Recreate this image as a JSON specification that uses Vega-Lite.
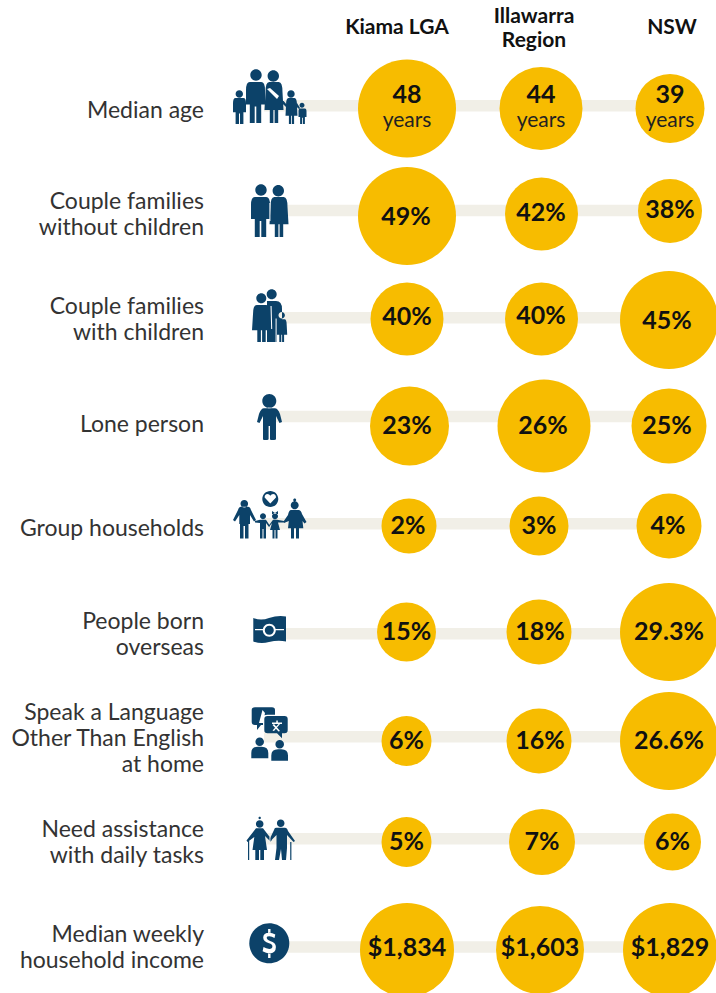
{
"$schema":"https://vega.github.io/schema/vega-lite/v6.json",
"width":716,"height":993,"padding":0,
"autosize":{"type":"fit","contains":"padding"},
"background":"white",
"config":{"view":{"stroke":null},"text":{"font":"Lato"}},
"datasets":{
"rows":[
{"row":1,"label":"Median age","icon":"family","detail":"family"},
{"row":2,"label":"Couple families\nwithout children","icon":"couple","detail":"couple"},
{"row":3,"label":"Couple families\nwith children","icon":"parents","detail":"parents"},
{"row":4,"label":"Lone person","icon":"lone","detail":"lone"},
{"row":5,"label":"Group households","icon":"group","detail":"group"},
{"row":6,"label":"People born\noverseas","icon":"flag","detail":"flag"},
{"row":7,"label":"Speak a Language\nOther Than English\nat home","icon":"speech","detail":"speech"},
{"row":8,"label":"Need assistance\nwith daily tasks","icon":"elderly","detail":"elderly"},
{"row":9,"label":"Median weekly\nhousehold income","icon":"dollar","detail":"dollar"}
],
"cells":[
{"cell":1,"area":"Kiama LGA","text":"48","unit":"years","bubble":98},
{"cell":2,"area":"Illawarra Region","text":"44","unit":"years","bubble":83},
{"cell":3,"area":"NSW","text":"39","unit":"years","bubble":69},
{"cell":4,"area":"Kiama LGA","text":"49%","bubble":98},
{"cell":5,"area":"Illawarra Region","text":"42%","bubble":73},
{"cell":6,"area":"NSW","text":"38%","bubble":64},
{"cell":7,"area":"Kiama LGA","text":"40%","bubble":73},
{"cell":8,"area":"Illawarra Region","text":"40%","bubble":73},
{"cell":9,"area":"NSW","text":"45%","bubble":98},
{"cell":10,"area":"Kiama LGA","text":"23%","bubble":79},
{"cell":11,"area":"Illawarra Region","text":"26%","bubble":93},
{"cell":12,"area":"NSW","text":"25%","bubble":75},
{"cell":13,"area":"Kiama LGA","text":"2%","bubble":55},
{"cell":14,"area":"Illawarra Region","text":"3%","bubble":59},
{"cell":15,"area":"NSW","text":"4%","bubble":65},
{"cell":16,"area":"Kiama LGA","text":"15%","bubble":59},
{"cell":17,"area":"Illawarra Region","text":"18%","bubble":65},
{"cell":18,"area":"NSW","text":"29.3%","bubble":98},
{"cell":19,"area":"Kiama LGA","text":"6%","bubble":50},
{"cell":20,"area":"Illawarra Region","text":"16%","bubble":65},
{"cell":21,"area":"NSW","text":"26.6%","bubble":98},
{"cell":22,"area":"Kiama LGA","text":"5%","bubble":50},
{"cell":23,"area":"Illawarra Region","text":"7%","bubble":66},
{"cell":24,"area":"NSW","text":"6%","bubble":57},
{"cell":25,"area":"Kiama LGA","text":"$1,834","bubble":94},
{"cell":26,"area":"Illawarra Region","text":"$1,603","bubble":88},
{"cell":27,"area":"NSW","text":"$1,829","bubble":94}
],
"headers":[
{"col":1,"line":2,"name":"Kiama LGA"},
{"col":2,"line":1,"name":"Illawarra\nRegion"},
{"col":3,"line":2,"name":"NSW"}
]
},
"resolve":{"scale":{"x":"independent","y":"independent","shape":"independent","size":"independent"}},
"layer":[
{"data":{"name":"rows"},
 "mark":{"type":"rule","color":"#f1efe7","strokeWidth":11.5},
 "encoding":{
  "y":{"field":"row","type":"quantitative","axis":null,"scale":{"domain":[1,2,3,4,5,6,7,8,9],"range":[105.8,210.5,317.8,416.5,523.8,633.8,736.8,838.8,947],"nice":false,"zero":false}},
  "x":{"datum":0,"type":"quantitative","axis":null,"scale":{"domain":[0,3],"range":[264,668],"nice":false,"zero":false}},
  "x2":{"datum":3}
 }},
{"data":{"name":"rows"},
 "mark":{"type":"point","filled":true,"size":4,"color":"#0c4269","opacity":1,"strokeWidth":0},
 "encoding":{
  "y":{"field":"row","type":"quantitative","axis":null,"scale":{"domain":[1,2,3,4,5,6,7,8,9],"range":[105,211,317,417,523,633,737,838,947],"nice":false,"zero":false}},
  "x":{"datum":0,"type":"quantitative","axis":null,"scale":{"domain":[0,3],"range":[264,668],"nice":false,"zero":false}},
  "shape":{"field":"icon","type":"nominal","legend":null,"scale":{"domain":["family","couple","parents","lone","group","flag","speech","elderly","dollar"],"range":[
"M-14.2 -23L-2.8 -23Q1 -23 1 -14.8L1 -.5L-2.8 -.5L-2.8 18L-7.7 18L-7.7 1.6L-9.3 1.6L-9.3 18L-14.2 18L-14.2 -.5L-18 -.5L-18 -14.8Q-18 -23 -14.2 -23ZM-13.7 -30a5.7 5.7 0 1 0 11.4 0a5.7 5.7 0 1 0 -11.4 0ZM5.2 -23L14.8 -23Q18.5 -23 18.5 -12.8L19.5 4.9L14.2 4.9L14.2 18L10.6 18L10.6 4.9L9.4 4.9L9.4 18L5.8 18L5.8 4.9L.5 4.9L1.5 -12.8Q1.5 -23 5.2 -23ZM3.6 -29a5.7 5.7 0 1 0 11.4 0a5.7 5.7 0 1 0 -11.4 0ZM-28.4 -7L-20.6 -7Q-18 -7 -18 -1.8L-18 7.3L-20.6 7.3L-20.6 19L-24 19L-24 8.6L-25 8.6L-25 19L-28.4 19L-28.4 7.3L-31 7.3L-31 -1.8Q-31 -7 -28.4 -7ZM-28.4 -11a3.7 3.7 0 1 0 7.4 0a3.7 3.7 0 1 0 -7.4 0ZM24.5 -7L30.5 -7Q32.9 -7 32.9 -.5L33.5 10.7L30.1 10.7L30.1 19L27.9 19L27.9 10.7L27.1 10.7L27.1 19L24.9 19L24.9 10.7L21.5 10.7L22.1 -.5Q22.1 -7 24.5 -7ZM23.3 -11a3.7 3.7 0 1 0 7.4 0a3.7 3.7 0 1 0 -7.4 0ZM18 -6L23 0L22 2L17 -3ZM33 -2L36 3L35 4L32 1ZM36.1 3.5L40.9 3.5Q42.5 3.5 42.5 6.6L42.5 12L40.9 12L40.9 19L38.9 19L38.9 12.8L38.1 12.8L38.1 19L36.1 19L36.1 12L34.5 12L34.5 6.6Q34.5 3.5 36.1 3.5ZM35.5 .3a2.5 2.5 0 1 0 5 0a2.5 2.5 0 1 0 -5 0Z",
"M-9.2 -14L2.2 -14Q6 -14 6 -6L6 8L2.2 8L2.2 26L-2.7 26L-2.7 10L-4.3 10L-4.3 26L-9.2 26L-9.2 8L-13 8L-13 -6Q-13 -14 -9.2 -14ZM-8.7 -21a5.7 5.7 0 1 0 11.4 0a5.7 5.7 0 1 0 -11.4 0ZM10.2 -14L19.8 -14Q23.5 -14 23.5 -4L24.5 13.2L19.2 13.2L19.2 26L15.6 26L15.6 13.2L14.4 13.2L14.4 26L10.8 26L10.8 13.2L5.5 13.2L6.5 -4Q6.5 -14 10.2 -14ZM8.6 -20.3a5.7 5.7 0 1 0 11.4 0a5.7 5.7 0 1 0 -11.4 0Z",
"M3 -16L12 -16Q18 -16 18 -8L18 6L13 6L13 25L3 25ZM2.7 -22.7a5 5 0 1 0 10 0a5 5 0 1 0 -10 0ZM-7.2 -12L2.2 -12Q6 -12 6 -2.8L7 13.2L1.7 13.2L1.7 25L-1.9 25L-1.9 13.2L-3.1 13.2L-3.1 25L-6.7 25L-6.7 13.2L-12 13.2L-11 -2.8Q-11 -12 -7.2 -12ZM-7.7 -18.7a5 5 0 1 0 10 0a5 5 0 1 0 -10 0ZM15 2.3L20.5 2.3Q22.7 2.3 22.7 8L23.2 17.7L20.1 17.7L20.1 25L18.1 25L18.1 17.7L17.3 17.7L17.3 25L15.3 25L15.3 17.7L12.2 17.7L12.7 8Q12.7 2.3 15 2.3ZM14.5 -1.7a3.2 3.2 0 1 0 6.4 0a3.2 3.2 0 1 0 -6.4 0Z",
"M0 -8.7L10.6 -8.7Q14 -8.7 16 -3L18 5L15.5 6L12 -1L12 22Q12 23 10 23L7 23Q6 23 6 22L6 9L4.6 9L4.6 22Q4.6 23 3 23L0 23Q-1 23 -1 22L-1 -1L-4.5 6L-7 5L-5 -3Q-3 -8.7 0 -8.7ZM-1.7 -16a7 7 0 1 0 14 0a7 7 0 1 0 -14 0Z",
"M-1.7 -24a8 8 0 1 0 16 0a8 8 0 1 0 -16 0ZM-23 -16.3L-16 -16.3Q-14 -16.3 -13 -13L-8 -3L-10 -1.5L-14 -8L-14 1L-15.5 1L-15.5 15.4L-19 15.4L-19 3L-20.5 3L-20.5 15.4L-24 15.4L-24 1L-24.7 1L-24.7 -8L-29 -1.5L-31 -3L-26 -13Q-25 -16.3 -23 -16.3ZM-23.5 -19.3a3.8 3.8 0 1 0 7.6 0a3.8 3.8 0 1 0 -7.6 0ZM-9 -2L-4 -3.3L2 -3.3L6 3L5 4L2 0L2 15.4L-.5 15.4L-.5 6L-1.5 6L-1.5 15.4L-4 15.4L-4 0L-9 -.5ZM-4 -6.7a3 3 0 1 0 6 0a3 3 0 1 0 -6 0ZM9 -3.3L13 -3.3L20 -2L20 -.5L14 -.5L16 7L13.5 7L13.5 15.4L11.5 15.4L11.5 7L10.5 7L10.5 15.4L8.5 15.4L8.5 7L6 7L8 0L5 4L4.5 3ZM8 -6.7a3 3 0 1 0 6 0a3 3 0 1 0 -6 0ZM8 -12L11 -10L14 -12L14 -9L8 -9ZM27 -13L34.5 -13Q37 -13 38 -9L42.5 -1L40.5 .5L38.5 -2L39.3 5.3L35 5.3L35 15.4L32 15.4L32 5.3L30 5.3L30 15.4L27 15.4L27 5.3L24 5.3L24.8 -2L20 0L19.5 -1.5L24 -8Q25 -13 27 -13ZM26.7 -17.7a4 4 0 1 0 8 0a4 4 0 1 0 -8 0ZM29.2 -23a1.5 1.5 0 1 0 3 0a1.5 1.5 0 1 0 -3 0Z",
"M-10.7 -15Q-3 -12 5 -15Q14 -18 22 -16.5L22 8.5Q14 7 5 9Q-3 11 -10.7 8.5Z",
"M-9 -29.7L8 -29.7Q11 -29.7 11 -27L11 -15Q11 -12 8 -12L-3 -12L-7 -7L-7 -12L-9 -12Q-12.3 -12 -12.3 -15L-12.3 -27Q-12.3 -29.7 -9 -29.7ZM3.5 -21L20.5 -21Q23.7 -21 23.7 -18L23.7 -7Q23.7 -3.7 20.5 -3.7L18 -3.7L18 1.3L13 -3.7L3.5 -3.7Q.3 -3.7 .3 -7L.3 -18Q.3 -21 3.5 -21ZM-8.6 4.7a4.3 4.3 0 1 0 8.6 0a4.3 4.3 0 1 0 -8.6 0ZM-12.7 21.3L-12.7 16Q-12.7 9.7 -6 9.7L-2.4 9.7Q4.3 9.7 4.3 16L4.3 21.3ZM11.4 7.3a4.3 4.3 0 1 0 8.6 0a4.3 4.3 0 1 0 -8.6 0ZM7.3 23.7L7.3 18.5Q7.3 12.3 14 12.3L17.3 12.3Q24 12.3 24 18.5L24 23.7Z",
"M-8 -9.7L-1 -9.7L8 2L6.5 3.5L1 -2L3 12L0 12L0 22L-3.7 22L-3.7 12L-5 12L-5 22L-8.7 22L-8.7 12L-11.5 12L-9.7 -1L-16.5 4L-17.5 2.5ZM-8.1 -14a3.8 3.8 0 1 0 7.6 0a3.8 3.8 0 1 0 -7.6 0ZM-5.5 -20a1.2 1.2 0 1 0 2.4 0a1.2 1.2 0 1 0 -2.4 0ZM-16 3h1.2v19h-1.2ZM12 -10.3L21 -10.3Q23 -10.3 24 -7L31 3L29.5 4L23 -3L23 10L22 22L18 22L17 11L15 22L11 22L12.5 10L12.5 -3L7 2.5L5.5 1.5L10 -8Q10.5 -10.3 12 -10.3ZM12.9 -14.7a3.8 3.8 0 1 0 7.6 0a3.8 3.8 0 1 0 -7.6 0ZM26.2 4h1.2v18h-1.2Z",
"M-14.7 -3.7a20 20 0 1 0 40 0a20 20 0 1 0 -40 0Z"
]}}
 }},
{"data":{"name":"rows"},
 "mark":{"type":"point","filled":true,"size":4,"color":"#ffffff","opacity":1,"strokeWidth":0},
 "encoding":{
  "y":{"field":"row","type":"quantitative","axis":null,"scale":{"domain":[1,2,3,4,5,6,7,8,9],"range":[105,211,317,417,523,633,737,838,947],"nice":false,"zero":false}},
  "x":{"datum":0,"type":"quantitative","axis":null,"scale":{"domain":[0,3],"range":[264,668],"nice":false,"zero":false}},
  "shape":{"field":"detail","type":"nominal","legend":null,"scale":{"domain":["family","couple","parents","lone","group","flag","speech","elderly","dollar"],"range":[
"M3 -16L6 -17L15 -9L13 -6Z",
"M5.4 -8L6.4 -8L6.4 10L5.4 10Z",
"M6.5 -11L7.6 -11L8.2 12L7.2 12ZM11.6 1.5L12.6 1.5L12.6 25L11.6 25Z",
"M4 -9.4h2.6v.6h-2.6Z",
"M.6 -25.5Q.6 -29 3.5 -29Q5.3 -29 6.3 -27.3Q7.3 -29 9.1 -29Q12 -29 12 -25.5L6.3 -19.5Z",
"M-9 -3.9L-1 -3.9L-1 -2.7L-9 -2.7ZM11.6 -3.9L20 -3.9L20 -2.7L11.6 -2.7ZM-1.2 -2.7a6.5 6.5 0 1 1 13 0a6.5 6.5 0 1 1 -13 0ZM.8 -2.7a4.5 4.5 0 1 0 9 0a4.5 4.5 0 1 0 -9 0Z",
"M-1 -12L-1 -19Q-1 -22.3 3.5 -22.3L11 -22.3L11 -21L3.5 -21Q.3 -21 .3 -18L.3 -12ZM-5 -14L-1.5 -27L1 -24L-1 -14ZM8 -14.5h10v1.5h-10ZM12.3 -16.5h1.5v2h-1.5ZM10 -13L16 -6L14.5 -5.5L8.5 -12ZM16 -13L10 -6L8.5 -6.5L14.5 -13Z",
"M5.5 -1L6.4 -1L6.4 3L5.5 3Z",
"M11.3 -12.5Q8.4 -14.3 5.3 -14.3Q-.8 -14.3 -.8 -9.5Q-.8 -5.3 5 -3.7Q8.4 -2.9 8.4 -.5Q8.4 1.9 5.3 1.9Q2.1 1.9 -.5 .1L-1.4 4.3Q2.1 6.4 5.3 6.4Q11.9 6.4 11.9 .1Q11.9 -4.7 6.1 -6.1Q2.7 -7.1 2.7 -9.5Q2.7 -10.7 5.3 -10.7Q7.8 -10.7 10.5 -8.9ZM4.1 -18h2.4v4h-2.4ZM4.1 6h2.4v5h-2.4Z"
]}}
 }},
{"data":{"name":"cells"},
 "mark":{"type":"point","filled":true,"shape":"circle","color":"#f7bc00","opacity":1,"strokeWidth":0},
 "encoding":{
  "x":{"field":"cell","type":"quantitative","axis":null,"scale":{"domain":[1,2,3,4,5,6,7,8,9,10,11,12,13,14,15,16,17,18,19,20,21,22,23,24,25,26,27],"range":[407,541,670,407,541.5,670,407,541.5,669,409.5,544,669,409,539,669,406.5,539,669,406.5,539,669,406.5,542,672.5,407,540,670],"nice":false,"zero":false}},
  "y":{"field":"cell","type":"quantitative","axis":null,"scale":{"domain":[1,2,3,4,5,6,7,8,9,10,11,12,13,14,15,16,17,18,19,20,21,22,23,24,25,26,27],"range":[108.5,108.5,108.5,216,214,211,319,319,320,426,426,426,526,526,526,632,632,632,741,741,741,842,842,842,950,950,950],"nice":false,"zero":false}},
  "size":{"field":"bubble","type":"quantitative","legend":null,"scale":{"type":"pow","exponent":2,"domain":[0,100],"range":[0,10000]}}
 }},
{"data":{"name":"cells"},
 "transform":[{"filter":"datum.unit == null"}],
 "mark":{"type":"text","font":"Lato","fontWeight":"bold","fontSize":25,"color":"#111111","align":"center","baseline":"middle"},
 "encoding":{
  "x":{"field":"cell","type":"quantitative","axis":null,"scale":{"domain":[1,2,3,4,5,6,7,8,9,10,11,12,13,14,15,16,17,18,19,20,21,22,23,24,25,26,27],"range":[407,541,670,406,541,670,407,541,667,407,543,667,408,539,668,406.5,540,669,406.5,540,669,406.5,542,672.5,407,540,670],"nice":false,"zero":false}},
  "y":{"field":"cell","type":"quantitative","axis":null,"scale":{"domain":[1,2,3,4,5,6,7,8,9,10,11,12,13,14,15,16,17,18,19,20,21,22,23,24,25,26,27],"range":[108.5,108.5,108.5,217,213,210,317,316,321,426,426,426,526,526,526,632,632,632,741,741,741,842,842,842,948,948,948],"nice":false,"zero":false}},
  "text":{"field":"text","type":"nominal"}
 }},
{"data":{"name":"cells"},
 "transform":[{"filter":"datum.unit != null"}],
 "mark":{"type":"text","font":"Lato","fontWeight":"bold","fontSize":25,"color":"#111111","align":"center","baseline":"middle"},
 "encoding":{
  "x":{"field":"cell","type":"quantitative","axis":null,"scale":{"domain":[1,2,3],"range":[407,541,670],"nice":false,"zero":false}},
  "y":{"datum":0,"type":"quantitative","axis":null,"scale":{"domain":[0,1],"range":[95,120],"nice":false,"zero":false}},
  "text":{"field":"text","type":"nominal"}
 }},
{"data":{"name":"cells"},
 "transform":[{"filter":"datum.unit != null"}],
 "mark":{"type":"text","font":"Lato","fontSize":21,"color":"#222222","align":"center","baseline":"middle"},
 "encoding":{
  "x":{"field":"cell","type":"quantitative","axis":null,"scale":{"domain":[1,2,3],"range":[407,541,670],"nice":false,"zero":false}},
  "y":{"datum":1,"type":"quantitative","axis":null,"scale":{"domain":[0,1],"range":[95,120.5],"nice":false,"zero":false}},
  "text":{"field":"unit","type":"nominal"}
 }},
{"data":{"name":"rows"},
 "mark":{"type":"text","font":"Lato","fontSize":23,"color":"#333333","align":"right","baseline":"middle","lineBreak":"\n","lineHeight":26},
 "encoding":{
  "x":{"datum":0,"type":"quantitative","axis":null,"scale":{"domain":[0,1],"range":[204,264],"nice":false,"zero":false}},
  "y":{"field":"row","type":"quantitative","axis":null,"scale":{"domain":[1,2,3,4,5,6,7,8,9],"range":[111,201.5,306.5,424.5,528.5,621.5,712.5,829.5,934.5],"nice":false,"zero":false}},
  "text":{"field":"label","type":"nominal"}
 }},
{"data":{"name":"headers"},
 "mark":{"type":"text","font":"Lato","fontWeight":"bold","fontSize":21,"color":"#111111","align":"center","baseline":"middle","lineBreak":"\n","lineHeight":24},
 "encoding":{
  "x":{"field":"col","type":"quantitative","axis":null,"scale":{"domain":[1,2,3],"range":[397,534,672],"nice":false,"zero":false}},
  "y":{"field":"line","type":"quantitative","axis":null,"scale":{"domain":[1,2],"range":[16.5,28],"nice":false,"zero":false}},
  "text":{"field":"name","type":"nominal"}
 }}
]
}
